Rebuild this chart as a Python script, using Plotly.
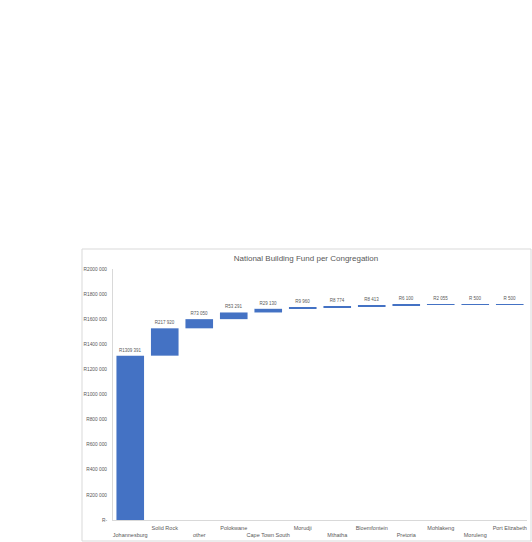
import plotly.graph_objects as go

congregations = [
    "Johannesburg", "Solid Rock", "other", "Polokwane", "Cape Town South",
    "Morudji", "Mthatha", "Bloemfontein", "Pretoria", "Mohlakeng",
    "Moruleng", "Port Elizabeth",
]
contributions = [1309391, 217920, 73050, 53291, 29130, 9960, 8774, 8413, 6100, 2055, 500, 500]

y_ticks = [0, 200000, 400000, 600000, 800000, 1000000, 1200000, 1400000, 1600000, 1800000, 2000000]
y_tick_labels = ["R-", "R200 000", "R400 000", "R600 000", "R800 000", "R1000 000",
                 "R1200 000", "R1400 000", "R1600 000", "R1800 000", "R2000 000"]

W, H = 532, 542
# plot area in pixels
PL, PR, PT, PB = 113, 527, 269, 520
# chart frame in pixels
FL, FR, FT, FB = 82, 531, 249, 541


def rand(v):
    th, rest = divmod(v, 1000)
    return f"R{th} {rest:03d}" if th else f"R {rest}"


# Excel staggers the category labels on two rows
tick_text = [(" <br>" + c) if i % 2 == 0 else (c + "<br> ") for i, c in enumerate(congregations)]

blue = "#4472C4"
grey = "#595959"

fig = go.Figure(go.Waterfall(
    x=congregations,
    y=contributions,
    measure=["relative"] * len(contributions),
    text=[rand(v) for v in contributions],
    textposition="outside",
    textfont=dict(size=4.5, color=grey),
    increasing=dict(marker=dict(color=blue)),
    connector=dict(visible=False),
    cliponaxis=False,
))

pw = PR - PL
ph = PB - PT


def px_x(x):
    return (x - PL) / pw


def px_y(y):
    return (PB - y) / ph


fig.add_shape(type="rect", xref="paper", yref="paper",
              x0=px_x(FL), x1=px_x(FR), y0=px_y(FB), y1=px_y(FT),
              line=dict(color="#d9d9d9", width=1), fillcolor="rgba(0,0,0,0)", layer="below")

fig.update_layout(
    width=W, height=H,
    margin=dict(l=PL, r=W - PR, t=PT, b=H - PB, autoexpand=False),
    paper_bgcolor="white",
    plot_bgcolor="white",
    showlegend=False,
    bargap=0.07,
    font=dict(family="Liberation Sans", color=grey),
    title=dict(text="National Building Fund per Congregation",
               font=dict(size=8, color=grey),
               xref="paper", x=px_x(306), xanchor="center",
               yref="container", y=1 - 258 / H, yanchor="middle"),
    xaxis=dict(
        tickmode="array", tickvals=congregations, ticktext=tick_text,
        tickfont=dict(size=5.5, color=grey),
        showline=True, linecolor="#d9d9d9", linewidth=1,
        showgrid=False, ticks="", tickangle=0, ticklabelstandoff=2,
    ),
    yaxis=dict(
        range=[0, 2000000],
        tickmode="array", tickvals=y_ticks, ticktext=y_tick_labels,
        tickfont=dict(size=4.8, color=grey),
        showline=True, linecolor="#d9d9d9", linewidth=1,
        showgrid=False, zeroline=False,
        ticks="outside", ticklen=4, tickcolor="white",
    ),
)

# drop the default page margin so the figure fills the window exactly
fig.write_html("out.html",
               config=dict(displayModeBar=False),
               post_script="document.body.style.margin='0';document.body.style.overflow='hidden';")
